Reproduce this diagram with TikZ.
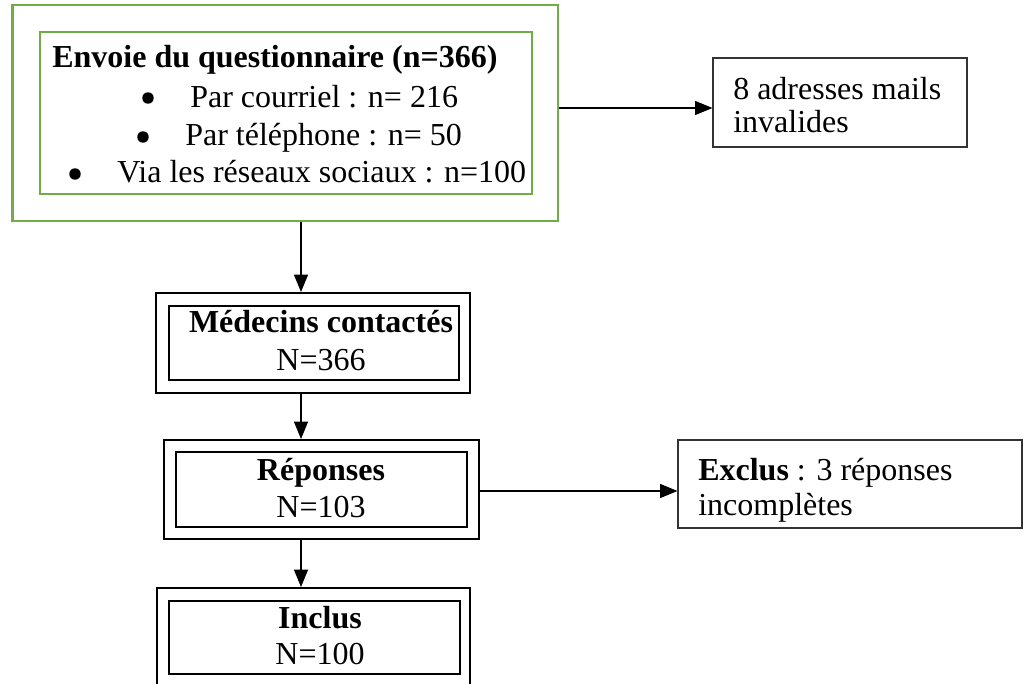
\documentclass[tikz,border=0pt]{standalone}
\usepackage{fontspec}
\setmainfont{Liberation Serif}
\usetikzlibrary{arrows.meta,fit}
\definecolor{offgreen}{HTML}{70AD47}
\definecolor{thingray}{HTML}{333333}
\tikzset{
  greenbox/.style={draw=offgreen, line width=2.2pt, inner sep=0pt},
  outerbox/.style={draw=black, line width=1.5pt, inner sep=0pt},
  innerbox/.style={draw=black, line width=2.1pt, inner sep=0pt},
  sidebox/.style={draw=thingray, line width=0.8pt, inner sep=0pt},
  txt/.style={inner sep=0pt, font=\fontsize{24}{28}\selectfont},
  bul/.style={circle, fill=black, inner sep=0pt, minimum size=8.6pt},
  arr/.style={line width=0.8pt, -{Triangle[length=13pt,width=10.5pt]}}
}
\begin{document}
\begin{tikzpicture}[x=0.75pt,y=-0.75pt]
\useasboundingbox (0,0) rectangle (1028,684);
\clip (0,0) rectangle (1028,684);
\fill[white] (0,0) rectangle (1028,684);
% top green double box
\node[greenbox, fit={(12.7,5) (558,221)}] (topO) {};
\node[greenbox, fit={(40,32) (532,194)}] (topI) {};
\node[txt, anchor=base west] (t0) at (52,68) {\textbf{Envoie du questionnaire (n=366)}};
\node[bul] (b1) at (148,98) {};
\node[txt, anchor=base west] (t1) at (190,108) {Par courriel : n= 216};
\node[bul] (b2) at (143,137) {};
\node[txt, anchor=base west] (t2) at (185,146) {Par téléphone : n= 50};
\node[bul] (b3) at (75,174) {};
\node[txt, anchor=base west] (t3) at (117,183) {Via les réseaux sociaux : n=100};
% Médecins
\node[outerbox, fit={(156,293) (470,393)}] (medO) {};
\node[innerbox, fit={(169,306) (459,380)}] (medI) {};
\node[txt, anchor=base] (m1) at (321,333) {\textbf{Médecins contactés}};
\node[txt, anchor=base] (m2) at (321,370) {N=366};
% Réponses
\node[outerbox, fit={(164,440) (479,539)}] (repO) {};
\node[innerbox, fit={(176,452) (467,527)}] (repI) {};
\node[txt, anchor=base] (r1) at (321,480) {\textbf{Réponses}};
\node[txt, anchor=base] (r2) at (321,517) {N=103};
% Inclus
\node[outerbox, fit={(157,588) (470,710)}] (incO) {};
\node[innerbox, fit={(169,601) (460,674)}] (incI) {};
\node[txt, anchor=base] (i1) at (320,628) {\textbf{Inclus}};
\node[txt, anchor=base] (i2) at (320,664) {N=100};
% side boxes
\node[sidebox, fit={(713,58) (967,147)}] (sb1) {};
\node[txt, anchor=base west] (s1a) at (733,100) {8 adresses mails};
\node[txt, anchor=base west] (s1b) at (733,133) {invalides};
\node[sidebox, fit={(678,440) (1022,528)}] (sb2) {};
\node[txt, anchor=base west] (s2a) at (698,480) {\textbf{Exclus} : 3 réponses};
\node[txt, anchor=base west] (s2b) at (698,515) {incomplètes};
% connectors
\coordinate (spine) at (301,0);
\coordinate (ya) at (0,108);
\coordinate (yb) at (0,491);
\draw[arr] (spine |- topO.south) -- (spine |- medO.north);
\draw[arr] (spine |- medO.south) -- (spine |- repO.north);
\draw[arr] (spine |- repO.south) -- (spine |- incO.north);
\draw[arr] (topO.east |- ya) -- (sb1.west |- ya);
\draw[arr] (repO.east |- yb) -- (sb2.west |- yb);
\end{tikzpicture}
\end{document}
